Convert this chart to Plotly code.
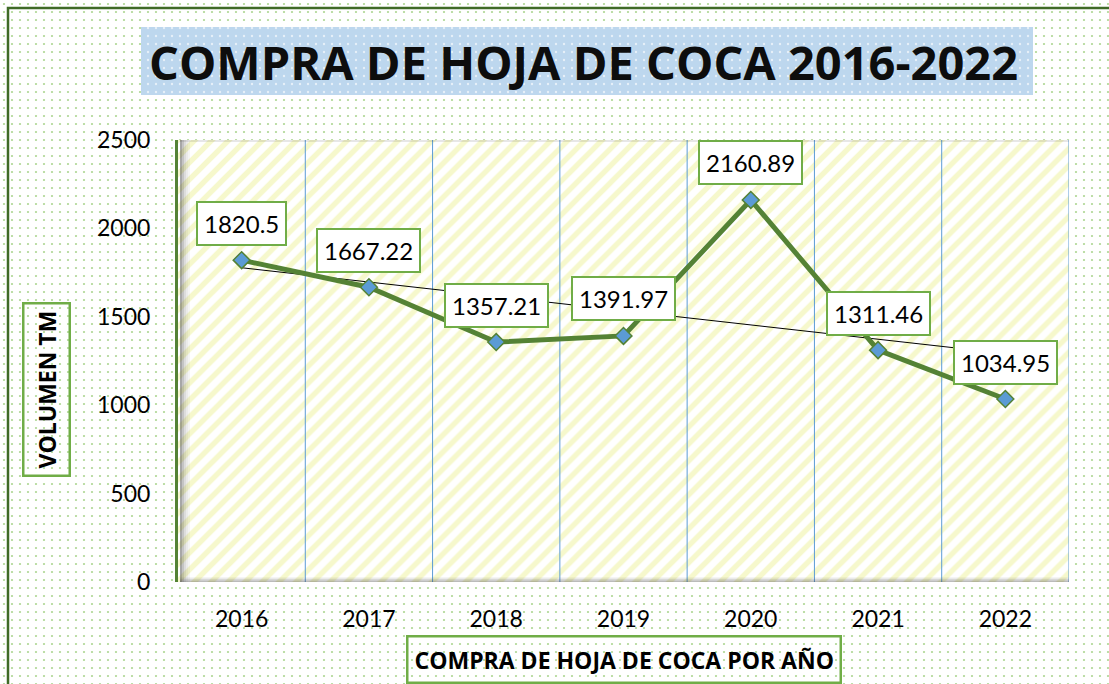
import numpy as np
import plotly.graph_objects as go

# ---- data ----
years = ["2016", "2017", "2018", "2019", "2020", "2021", "2022"]
volumes = [1820.5, 1667.22, 1357.21, 1391.97, 2160.89, 1311.46, 1034.95]
label_texts = ["1820.5", "1667.22", "1357.21", "1391.97", "2160.89", "1311.46", "1034.95"]
y_ticks = [0, 500, 1000, 1500, 2000, 2500]

title_text = "COMPRA DE HOJA DE COCA 2016-2022"
x_title = "COMPRA DE HOJA DE COCA POR AÑO"
y_title = "VOLUMEN TM"

W, H = 1109, 684
def px(x):
    return x / W
def py(y):
    return (H - y) / H

GREEN = "#548235"
LGREEN = "#70ad47"
BLUE = "#5b9bd5"

xpos = list(range(len(years)))
slope, intercept = np.polyfit(xpos, volumes, 1)
trend = [slope * i + intercept for i in xpos]
y_max = y_ticks[-1]

fig = go.Figure()

# page background (dotted)
fig.add_trace(go.Bar(x=[0.5], y=[1], width=[1], base=[0], xaxis="x", yaxis="y",
                     marker=dict(color="white", line=dict(width=0),
                                 pattern=dict(shape=".", fgcolor="#aed693", bgcolor="white",
                                              size=8, solidity=0.06, fillmode="replace")),
                     hoverinfo="skip", showlegend=False))
# title box (blue dotted)
fig.add_trace(go.Bar(x=[(px(141) + px(1033)) / 2], y=[py(27) - py(95)], width=[px(1033) - px(141)],
                     base=[py(95)], xaxis="x", yaxis="y",
                     marker=dict(color="#bdd7ee", line=dict(width=0),
                                 pattern=dict(shape=".", fgcolor="#e6f0f9", bgcolor="#bdd7ee",
                                              size=8, solidity=0.07, fillmode="replace")),
                     hoverinfo="skip", showlegend=False))
# plot-area background (yellow stripes)
fig.add_trace(go.Bar(x=[0.5], y=[1], width=[1], base=[0], xaxis="x2", yaxis="y2",
                     marker=dict(color="white", line=dict(width=0),
                                 pattern=dict(shape="/", fgcolor="#f6f8cc", bgcolor="white",
                                              size=12, solidity=0.45, fillmode="replace")),
                     hoverinfo="skip", showlegend=False))

# vertical gridlines between categories
gx, gy = [], []
for i in xpos:
    gx += [i + 0.5, i + 0.5, None]
    gy += [0, y_max, None]
fig.add_trace(go.Scatter(x=gx, y=gy, mode="lines", xaxis="x3", yaxis="y3",
                         line=dict(color=BLUE, width=1), hoverinfo="skip", showlegend=False))

# trend line
fig.add_trace(go.Scatter(x=xpos, y=trend, mode="lines", xaxis="x3", yaxis="y3",
                         line=dict(color="black", width=1), hoverinfo="skip", showlegend=False))
# main series
fig.add_trace(go.Scatter(x=xpos, y=volumes, mode="lines+markers", xaxis="x3", yaxis="y3",
                         line=dict(color=GREEN, width=5),
                         marker=dict(symbol="diamond", size=13, color=BLUE,
                                     line=dict(color=GREEN, width=1.5)),
                         showlegend=False))

dom_x = [px(178), px(1069)]
dom_y = [py(582), py(140)]

fig.update_layout(
    width=W, height=H,
    margin=dict(l=0, r=0, t=0, b=0, pad=0, autoexpand=False),
    paper_bgcolor="white", plot_bgcolor="rgba(0,0,0,0)",
    barmode="overlay",
    xaxis=dict(domain=[0, 1], range=[0, 1], visible=False, fixedrange=True, automargin=False),
    yaxis=dict(domain=[0, 1], range=[0, 1], visible=False, fixedrange=True, automargin=False),
    xaxis2=dict(domain=dom_x, range=[0, 1], visible=False, anchor="y2", automargin=False),
    yaxis2=dict(domain=dom_y, range=[0, 1], visible=False, anchor="x2", automargin=False),
    xaxis3=dict(domain=dom_x, range=[-0.5, 6.5], anchor="y3", automargin=False,
                tickmode="array", tickvals=xpos, ticktext=years,
                showgrid=False, zeroline=False, showline=False, ticks="",
                tickfont=dict(family="Lato", size=23, color="black"),
                ticklabelstandoff=21),
    yaxis3=dict(domain=dom_y, range=[0, y_max], anchor="x3", automargin=False,
                tickmode="array", tickvals=y_ticks,
                showgrid=False, zeroline=False, showline=True, linecolor=GREEN, linewidth=3,
                ticks="", tickfont=dict(family="Lato", size=23, color="black"),
                ticklabelstandoff=20),
)

shapes = []
# left shadow of plot area
for i, op in enumerate([0.45, 0.3, 0.18, 0.1, 0.05]):
    shapes.append(dict(type="rect", xref="paper", yref="paper", layer="above",
                       x0=px(180 + 2 * i), x1=px(182 + 2 * i), y0=py(582), y1=py(140),
                       fillcolor=f"rgba(60,60,60,{op})", line=dict(width=0)))
# bottom shadow
for i, op in enumerate([0.35, 0.2, 0.1]):
    shapes.append(dict(type="rect", xref="paper", yref="paper", layer="above",
                       x0=px(180), x1=px(1069), y0=py(582 - 1.5 * i), y1=py(580.5 - 1.5 * i),
                       fillcolor=f"rgba(60,60,60,{op})", line=dict(width=0)))
# top shadow
shapes.append(dict(type="rect", xref="paper", yref="paper", layer="above",
                   x0=px(180), x1=px(1069), y0=py(142), y1=py(140),
                   fillcolor="rgba(60,60,60,0.12)", line=dict(width=0)))
# outer frame
shapes.append(dict(type="rect", xref="paper", yref="paper", layer="above",
                   x0=px(8), x1=1.02, y0=-0.02, y1=py(8),
                   line=dict(color="#3f6a26", width=2.5), fillcolor="rgba(0,0,0,0)"))
fig.update_layout(shapes=shapes)

annotations = []
for i, (v, t) in enumerate(zip(volumes, label_texts)):
    annotations.append(dict(x=i, y=v, xref="x3", yref="y3", text=t, showarrow=False,
                            yshift=37, font=dict(family="Lato", size=24, color="black"),
                            bgcolor="white", bordercolor=LGREEN, borderwidth=2, borderpad=6))
annotations.append(dict(x=px(583), y=py(62), xref="paper", yref="paper", text=f"<b>{title_text}</b>",
                        xanchor="center", yanchor="middle",
                        showarrow=False, font=dict(family="Open Sans", size=47, color="#0d0d0d")))
annotations.append(dict(x=px(624), y=py(659.5), xref="paper", yref="paper", text=f"<b>{x_title}</b>",
                        xanchor="center", yanchor="middle",
                        showarrow=False, font=dict(family="Open Sans", size=23, color="black"),
                        bordercolor=LGREEN, borderwidth=2.5, borderpad=6))
annotations.append(dict(x=px(46), y=py(390), xref="paper", yref="paper", text=f"<b>{y_title}</b>",
                        xanchor="center", yanchor="middle",
                        showarrow=False, textangle=-90,
                        font=dict(family="Open Sans", size=23, color="black"),
                        bordercolor=LGREEN, borderwidth=2.5, borderpad=6))
fig.update_layout(annotations=annotations)

fig.write_html("out.html", config={"displayModeBar": False},
               post_script="document.body.style.margin='0';document.body.style.overflow='hidden';")
